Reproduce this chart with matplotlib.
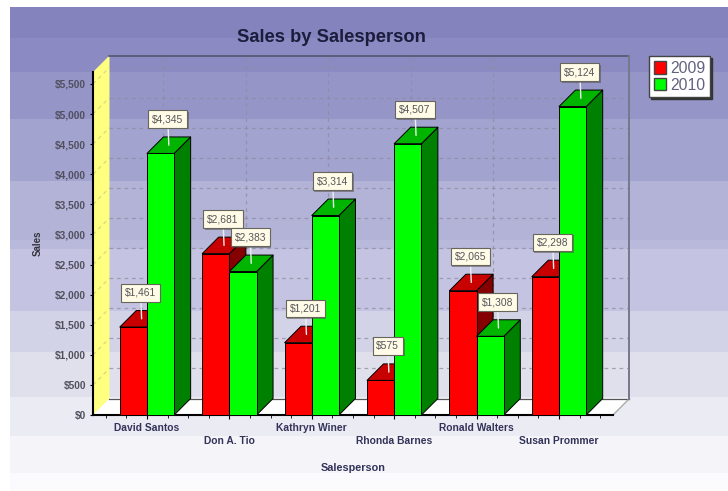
import matplotlib
matplotlib.use("Agg")
import matplotlib.pyplot as plt
import matplotlib.patheffects as pe
from matplotlib.patches import Patch, Polygon, Rectangle

plt.rcParams['font.family'] = ['Liberation Sans', 'DejaVu Sans']

# ----------------------------
# Data
# ----------------------------
salespeople = ["David Santos", "Don A. Tio", "Kathryn Winer", "Rhonda Barnes", "Ronald Walters", "Susan Prommer"]
sales_2009 = [1461, 2681, 1201, 575, 2065, 2298]
sales_2010 = [4345, 2383, 3314, 4507, 1308, 5124]
y_ticks = [0, 500, 1000, 1500, 2000, 2500, 3000, 3500, 4000, 4500, 5000, 5500]

# background bands: pixel edges and colours
band_edges = [7, 38, 72, 119, 181, 240, 249, 311, 352, 397, 436, 473, 491]
band_colors = ["#8583be", "#8c8ac2", "#9695c8", "#a3a3d0", "#b3b3d8", "#b9b9dc",
               "#c4c4e2", "#d3d3e8", "#e0e0ec", "#ebebf4", "#f4f4f9", "#fbfbfd"]

W, H = 728, 491
fig = plt.figure(figsize=(W / 100, H / 100), dpi=100, facecolor="white")

# background in pixel coordinates
bg = fig.add_axes([0, 0, 1, 1])
bg.set_xlim(0, W)
bg.set_ylim(H, 0)
bg.axis("off")
for i, c in enumerate(band_colors):
    bg.add_patch(Rectangle((10, band_edges[i]), W - 10, band_edges[i + 1] - band_edges[i], color=c, lw=0))

# ----------------------------
# Main axes (front plane)
# ----------------------------
LEFT, RIGHT, TOP, BOTTOM = 93, 613, 72, 415
ax = fig.add_axes([LEFT / W, 1 - BOTTOM / H, (RIGHT - LEFT) / W, (BOTTOM - TOP) / H])
ax.patch.set_alpha(0)
XMIN, XMAX, YMAX = -0.655, 5.655, 5698
ax.set_xlim(XMIN, XMAX)
ax.set_ylim(0, YMAX)

DX = 0.2        # depth in category units
DY = 274        # depth in value units
BAR_W = 0.33


def face(points, color, z):
    ax.add_patch(Polygon(points, closed=True, facecolor=color, edgecolor="black", lw=0.7,
                         clip_on=False, zorder=z, joinstyle="round"))


# walls and floor
ax.add_patch(Polygon([(XMIN, 0), (XMIN + DX, DY), (XMIN + DX, YMAX + DY), (XMIN, YMAX)],
                     facecolor="#ffff80", edgecolor="none", clip_on=False, zorder=1))
ax.add_patch(Polygon([(XMIN, 0), (XMIN + DX, DY), (XMAX + DX, DY), (XMAX, 0)],
                     facecolor="white", edgecolor="none", clip_on=False, zorder=1))
ax.plot([XMIN + DX, XMAX + DX], [DY, DY], color="#555555", lw=0.9, clip_on=False, zorder=1.5)
ax.plot([XMAX, XMAX + DX], [0, DY], color="#aaaaaa", lw=1, clip_on=False, zorder=1.5)
ax.plot([XMIN + DX, XMAX + DX], [YMAX + DY, YMAX + DY], color="#55556c", lw=1.2,
        clip_on=False, zorder=1.5)
ax.plot([XMAX + DX, XMAX + DX], [YMAX + DY, DY], color="#77778c", lw=1.4,
        clip_on=False, zorder=1.5)

# grid on the back wall, diagonals on the side wall
for v in y_ticks[1:]:
    ax.plot([XMIN + DX, XMAX + DX], [v + DY, v + DY], color="#8c8ca2", lw=0.9, ls=(0, (3, 3)),
            clip_on=False, zorder=1.2, alpha=0.75)
    ax.plot([XMIN, XMIN + DX], [v, v + DY], color="#d8d880", lw=0.9, ls=(0, (3, 3)),
            clip_on=False, zorder=1.2)
for i in range(len(salespeople)):
    ax.plot([i + DX, i + DX], [DY, YMAX + DY], color="#8c8ca2", lw=0.9, ls=(0, (3, 3)),
            clip_on=False, zorder=1.2, alpha=0.75)

# ----------------------------
# Bars
# ----------------------------
series = [(sales_2009, -BAR_W, "#ff0000", "#c80000", "#850000"),
          (sales_2010, 0, "#00ff00", "#00b400", "#008000")]

z = 2
label_points = []
for i in range(len(salespeople)):
    for values, off, front, top, side in series:
        x0 = i + off
        x1 = x0 + BAR_W
        v = values[i]
        face([(x1, 0), (x1 + DX, DY), (x1 + DX, v + DY), (x1, v)], side, z)
        face([(x0, v), (x0 + DX, v + DY), (x1 + DX, v + DY), (x1, v)], top, z + 0.1)
        face([(x0, 0), (x1, 0), (x1, v), (x0, v)], front, z + 0.2)
        z += 1
        label_points.append(((x0 + x1 + DX) / 2, v + DY / 2, v))

# value labels
for x, y, v in label_points:
    ann = ax.annotate(f"${v:,}", xy=(x, y), xytext=(-1, 26), textcoords="offset pixels",
                      ha="center", va="center", fontsize=7.4, color="#55555a", zorder=100,
                      annotation_clip=False,
                      bbox=dict(boxstyle="square,pad=0.38", facecolor="#fffbe6", edgecolor="#66665c", lw=0.8),
                      arrowprops=dict(arrowstyle="-", color="#eeeeee", lw=1, shrinkA=0, shrinkB=0))
    ann.get_bbox_patch().set_path_effects([pe.SimplePatchShadow(offset=(1, -1), alpha=0.5), pe.Normal()])

# ----------------------------
# Axes, ticks, labels
# ----------------------------
for s in ["top", "right"]:
    ax.spines[s].set_visible(False)
for s in ["left", "bottom"]:
    ax.spines[s].set_linewidth(1.5)
    ax.spines[s].set_color("black")
    ax.spines[s].set_zorder(1.6)

ax.set_yticks(y_ticks)
ax.set_yticklabels([f"${v:,}" for v in y_ticks], fontsize=7.3, fontweight="bold", color="#50505f")
ax.tick_params(axis="y", length=2, width=0.8, pad=3)

# staggered category labels
ax.set_xticks(range(len(salespeople)))
ax.set_xticklabels([("\n" if i % 2 else "") + n for i, n in enumerate(salespeople)],
                   fontsize=7.4, fontweight="bold", color="#33335a", linespacing=1.35)
ax.set_xticks([i * 0.25 - 0.5 for i in range(25)], minor=True)
ax.tick_params(axis="x", which="major", length=3, width=0.8, pad=3)
ax.tick_params(axis="x", which="minor", length=2, width=0.6)

fig.text(331 / W, 1 - 38 / H, "Sales by Salesperson", fontsize=13.2, fontweight="bold",
         color="#1c1c3c", ha="center", va="center")
fig.text(353 / W, 1 - 468 / H, "Salesperson", fontsize=7.8, fontweight="bold", color="#33335a",
         ha="center", va="center")
fig.text(38 / W, 1 - 243 / H, "Sales", fontsize=7, fontweight="bold", color="#33333f",
         ha="center", va="center", rotation=90)

# legend
handles = [Patch(facecolor="#ff0000", edgecolor="#444444", label="2009"),
           Patch(facecolor="#00ff00", edgecolor="#444444", label="2010")]
leg = ax.legend(handles=handles, loc="upper left", bbox_to_anchor=(649 / W, 1 - 56 / H),
                bbox_transform=fig.transFigure, fontsize=11.3, labelcolor="#62627e",
                fancybox=False, framealpha=1, edgecolor="#444444",
                shadow={"color": "#333333", "alpha": 1, "ox": 1.5, "oy": -1.5},
                handlelength=0.8, handleheight=0.85, handletextpad=0.25, borderpad=0.3,
                labelspacing=0.12, borderaxespad=0)
leg.set_zorder(200)

fig.savefig("out.png", dpi=100)
